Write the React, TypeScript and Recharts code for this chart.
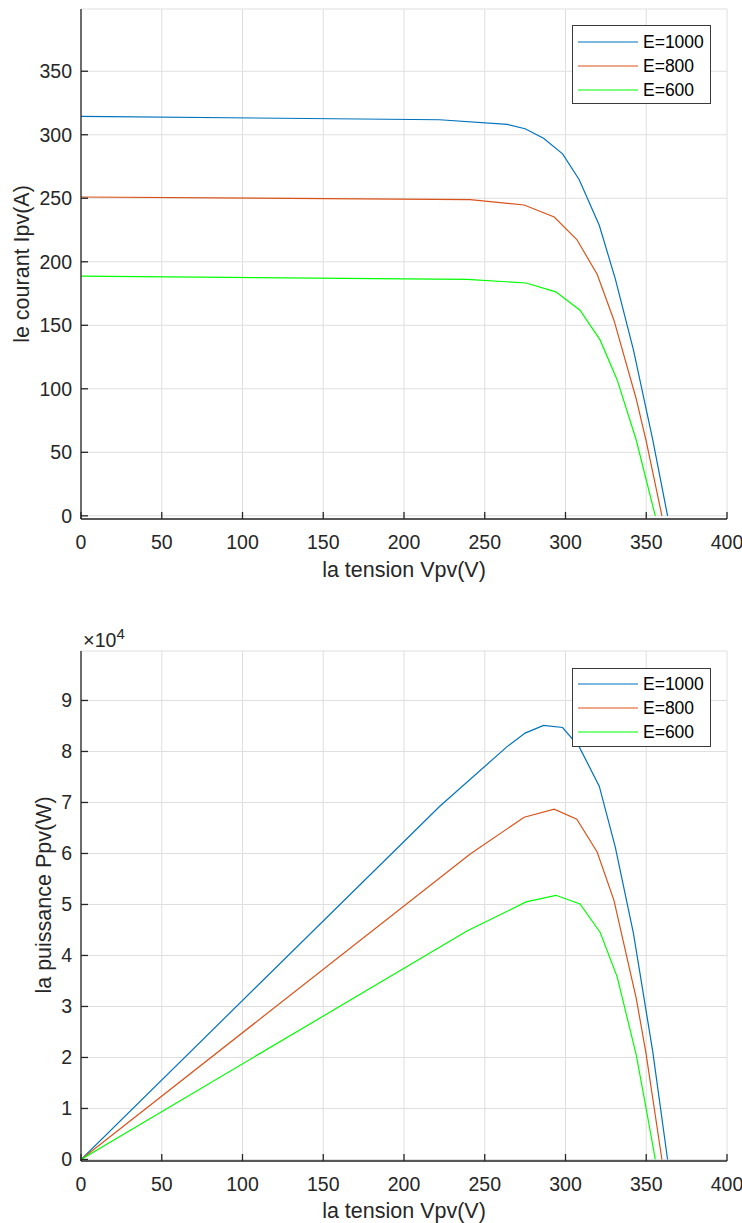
import React from 'react';
import { LineChart, Line, XAxis, YAxis, CartesianGrid, Legend } from 'recharts';

const V_TICKS = [0, 50, 100, 150, 200, 250, 300, 350, 400];
const I_TICKS = [0, 50, 100, 150, 200, 250, 300, 350];
const P_TICKS = [0, 10000, 20000, 30000, 40000, 50000, 60000, 70000, 80000, 90000];

const SERIES_NAMES = ['E=1000', 'E=800', 'E=600'];
const SERIES_COLORS = ['#0072BD', '#D95319', '#00FF00'];

const v1000 = [0, 222, 264, 275, 286.4, 298.2, 308.5, 320.9, 330.8, 342.1, 354, 363.2];
const i1000 = [314.5, 311.8, 308.1, 304.7, 297.3, 285, 264.6, 228.7, 186.8, 130.4, 60, 0];
const p1000 = [0, 69200, 81000, 83600, 85100, 84700, 80900, 73200, 61300, 44300, 21200, 0];

const v800 = [0, 241, 274.4, 293, 307, 319.6, 330, 343.8, 349.8, 359.7];
const i800 = [251, 248.9, 244.7, 235.2, 217.5, 190.2, 154, 92, 59.7, 0];
const p800 = [0, 59900, 67100, 68700, 66700, 60300, 50800, 31600, 20900, 0];

const v600 = [0, 239, 275.6, 294, 309, 321.5, 332, 343.8, 349.8, 355.6];
const i600 = [188.7, 186.2, 183.3, 176.3, 161.9, 138.3, 107, 59.7, 29.2, 0];
const p600 = [0, 44800, 50500, 51800, 50100, 44500, 35800, 20500, 10200, 0];

const build = (v: number[], i: number[], p: number[]) => v.map((x, k) => ({ v: x, i: i[k], p: p[k] }));
const series = [build(v1000, i1000, p1000), build(v800, i800, p800), build(v600, i600, p600)];

const FONT = '"Liberation Sans", Arial, Helvetica, sans-serif';
const TXT = '#262626';
const AX = '#262626';
const TICK_FS = 19.5;
const LABEL_FS = 21.5;
const TICK_LEN = 7;

const BottomTick = (props: any) => {
  const { x, y, payload } = props;
  return (
    <g>
      <line x1={x} x2={x} y1={y} y2={y - TICK_LEN} stroke={AX} strokeWidth={1.3} />
      <text x={x} y={y + 30} textAnchor="middle" fontSize={TICK_FS} fontFamily={FONT} fill={TXT}>
        {payload.value}
      </text>
    </g>
  );
};

const makeLeftTick = (fmt: (v: number) => string) => (props: any) => {
  const { x, y, payload } = props;
  return (
    <g>
      <line x1={x} x2={x + TICK_LEN} y1={y} y2={y} stroke={AX} strokeWidth={1.3} />
      <text x={x - 9} y={y} dy="0.36em" textAnchor="end" fontSize={TICK_FS} fontFamily={FONT} fill={TXT}>
        {fmt(payload.value)}
      </text>
    </g>
  );
};

const TopTick = (props: any) => {
  const { x, y } = props;
  return <line x1={x} x2={x} y1={y} y2={y + TICK_LEN} stroke={AX} strokeWidth={1.3} />;
};

const RightTick = (props: any) => {
  const { x, y } = props;
  return <line x1={x} x2={x - TICK_LEN} y1={y} y2={y} stroke={AX} strokeWidth={1.3} />;
};

const LegendBox = (props: any) => {
  const payload = [...(props.payload || [])].sort(
    (a: any, b: any) => SERIES_NAMES.indexOf(a.value) - SERIES_NAMES.indexOf(b.value)
  );
  return (
    <div
      style={{
        width: 139,
        height: 79,
        boxSizing: 'border-box',
        border: '1px solid #3a3a3a',
        background: '#fff',
        position: 'relative',
        fontFamily: FONT,
      }}
    >
      {payload.map((entry: any, k: number) => (
        <div
          key={k}
          style={{ position: 'absolute', left: 0, top: 3.5 + k * 24.2, height: 24, width: 137, display: 'flex', alignItems: 'center' }}
        >
          <svg width={70} height={24} style={{ display: 'block' }}>
            <line x1={5} x2={65} y1={12} y2={12} stroke={entry.color} strokeWidth={1.2} />
          </svg>
          <span style={{ fontSize: 17.5, color: '#000', lineHeight: '24px' }}>{entry.value}</span>
        </div>
      ))}
    </div>
  );
};

type PanelProps = {
  top: number;
  height: number;
  marginTop: number;
  xAxisHeight: number;
  yKey: 'i' | 'p';
  yDomain: [number, number];
  yTicks: number[];
  fmt: (v: number) => string;
  legendTop: number;
};

const Panel = ({ top, height, marginTop, xAxisHeight, yKey, yDomain, yTicks, fmt, legendTop }: PanelProps) => (
  <div style={{ position: 'absolute', left: 0, top, width: 742, height }}>
    <LineChart width={742} height={height} margin={{ top: marginTop, right: 15, bottom: 0, left: 0 }}>
      <CartesianGrid stroke="#dfdfdf" strokeWidth={1} />
      <XAxis
        dataKey="v"
        type="number"
        domain={[0, 400]}
        ticks={V_TICKS}
        allowDataOverflow
        height={xAxisHeight}
        tickSize={0}
        tickMargin={0}
        tickLine={false}
        axisLine={{ stroke: AX, strokeWidth: 1.3 }}
        tick={BottomTick}
        interval={0}
      />
      <XAxis
        xAxisId="top"
        orientation="top"
        type="number"
        domain={[0, 400]}
        ticks={V_TICKS}
        allowDataOverflow
        height={0}
        tickSize={0}
        tickMargin={0}
        tickLine={false}
        axisLine={{ stroke: AX, strokeWidth: 1.6 }}
        tick={TopTick}
        interval={0}
      />
      <YAxis
        type="number"
        domain={yDomain}
        ticks={yTicks}
        allowDataOverflow
        width={81}
        tickSize={0}
        tickMargin={0}
        tickLine={false}
        axisLine={{ stroke: AX, strokeWidth: 1.3 }}
        tick={makeLeftTick(fmt)}
        interval={0}
      />
      <YAxis
        yAxisId="right"
        orientation="right"
        type="number"
        domain={yDomain}
        ticks={yTicks}
        allowDataOverflow
        width={0}
        tickSize={0}
        tickMargin={0}
        tickLine={false}
        axisLine={{ stroke: AX, strokeWidth: 1.3 }}
        tick={RightTick}
        interval={0}
      />
      <Legend
        layout="vertical"
        align="center"
        verticalAlign="middle"
        content={LegendBox}
        wrapperStyle={{ left: 572, top: legendTop, width: 139, height: 79 }}
      />
      {series.map((d, k) => (
        <Line
          key={SERIES_NAMES[k]}
          name={SERIES_NAMES[k]}
          data={d}
          dataKey={yKey}
          stroke={SERIES_COLORS[k]}
          strokeWidth={1.2}
          dot={false}
          activeDot={false}
          isAnimationActive={false}
          type="linear"
        />
      ))}
    </LineChart>
  </div>
);

export default function App() {
  return (
    <div style={{ position: 'absolute', left: 0, top: 0, width: 742, height: 1223, background: '#fff', fontFamily: FONT }}>
      <Panel
        top={0}
        height={600}
        marginTop={9}
        xAxisHeight={81}
        yKey="i"
        yDomain={[-2.5, 399]}
        yTicks={I_TICKS}
        fmt={(v) => String(v)}
        legendTop={25}
      />
      <Panel
        top={600}
        height={623}
        marginTop={51}
        xAxisHeight={62}
        yKey="p"
        yDomain={[-300, 99700]}
        yTicks={P_TICKS}
        fmt={(v) => String(Math.round(v / 10000))}
        legendTop={67.5}
      />
      <svg
        width={742}
        height={1223}
        style={{ position: 'absolute', left: 0, top: 0, pointerEvents: 'none' }}
      >
        <text x={404} y={577} textAnchor="middle" fontSize={LABEL_FS} fontFamily={FONT} fill={TXT}>
          la tension Vpv(V)
        </text>
        <text x={404} y={1218} textAnchor="middle" fontSize={LABEL_FS} fontFamily={FONT} fill={TXT}>
          la tension Vpv(V)
        </text>
        <text
          x={0}
          y={0}
          transform="translate(28.5,264) rotate(-90)"
          textAnchor="middle"
          fontSize={LABEL_FS}
          fontFamily={FONT}
          fill={TXT}
        >
          le courant Ipv(A)
        </text>
        <text
          x={0}
          y={0}
          transform="translate(51,895) rotate(-90)"
          textAnchor="middle"
          fontSize={LABEL_FS}
          fontFamily={FONT}
          fill={TXT}
        >
          la puissance Ppv(W)
        </text>
        <text x={83} y={647} fontSize={TICK_FS} fontFamily={FONT} fill={TXT}>
          <tspan fontSize={20}>×</tspan>10
          <tspan fontSize={15} dy={-8}>4</tspan>
        </text>
      </svg>
    </div>
  );
}
